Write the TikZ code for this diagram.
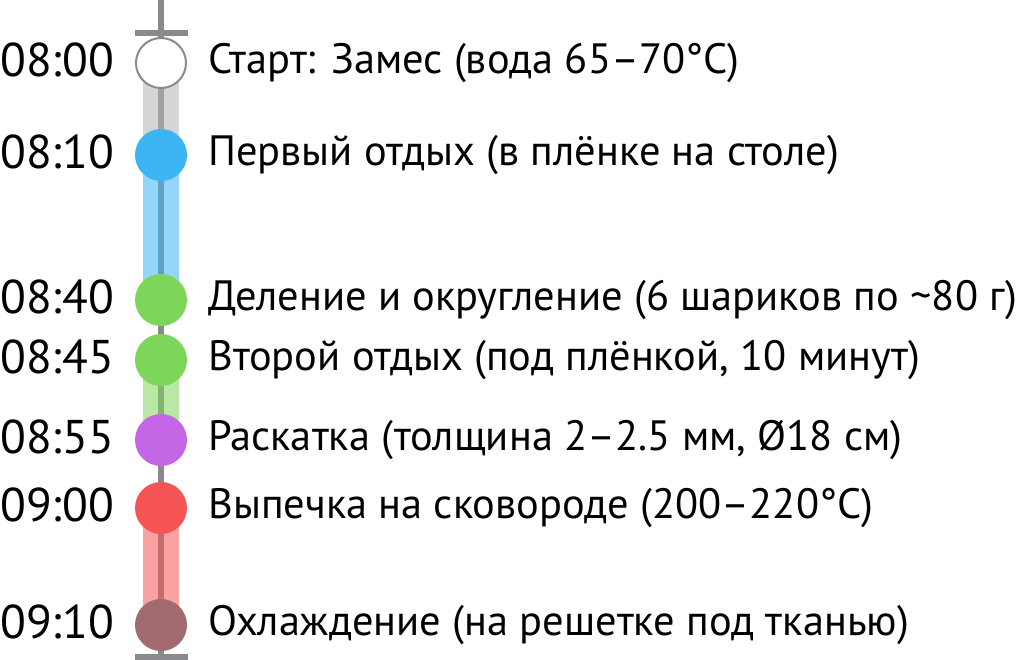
\documentclass[tikz,border=0pt]{standalone}
\usepackage{fontspec}
\setmainfont{PT Sans}
\begin{document}
\begin{tikzpicture}[x=0.75pt,y=-0.75pt,
  axis/.style={draw=axisgray,line width=4.5pt},
  band/.style={line width=27pt,opacity=0.55},
  dot/.style={circle,minimum size=39pt,inner sep=0pt},
  tm/.style={anchor=west,font=\fontsize{35.5}{38}\selectfont,inner sep=0pt},
  lbl/.style={anchor=west,font=\fontsize{31.8}{35}\selectfont,inner sep=0pt}]
\definecolor{axisgray}{HTML}{8A8A8E}
\definecolor{cgrayband}{HTML}{B4B4BA}
\definecolor{cblue}{HTML}{3DB5F5}
\definecolor{cgreen}{HTML}{7DD65A}
\definecolor{cpurple}{HTML}{C466E6}
\definecolor{cred}{HTML}{F55555}
\definecolor{cbrown}{HTML}{A06A6E}
\useasboundingbox (0,0) rectangle (1024,660);
\coordinate (top) at (161,0);
\coordinate (bot) at (161,660);
\draw[axis] (top) -- (bot);
\draw[axis] (135,33) -- (188,33);
\draw[axis] (135,657) -- (188,657);
\coordinate (p1) at (161,63);
\coordinate (p2) at (161,155);
\coordinate (p3) at (161,300);
\coordinate (p4) at (161,360);
\coordinate (p5) at (161,440);
\coordinate (p6) at (161,508);
\coordinate (p7) at (161,625);
\draw[band,draw=cgrayband] (p1) -- (p2);
\draw[band,draw=cblue] (p2) -- (p3);
\draw[band,draw=cgreen] (p4) -- (p5);
\draw[band,draw=cred] (p6) -- (p7);
\node[dot,fill=white,draw=axisgray,line width=1.5pt,minimum size=37.5pt] (n1) at (p1) {};
\node[dot,fill=cblue] (n2) at (p2) {};
\node[dot,fill=cgreen] (n3) at (p3) {};
\node[dot,fill=cgreen] (n4) at (p4) {};
\node[dot,fill=cpurple] (n5) at (p5) {};
\node[dot,fill=cred] (n6) at (p6) {};
\node[dot,fill=cbrown] (n7) at (p7) {};
\node[tm] (t1) at (0,60) {08:00};
\node[tm] (t2) at (0,152) {08:10};
\node[tm] (t3) at (0,297) {08:40};
\node[tm] (t4) at (0,357) {08:45};
\node[tm] (t5) at (0,437) {08:55};
\node[tm] (t6) at (0,505) {09:00};
\node[tm] (t7) at (0,622) {09:10};
\node[lbl] (l1) at (208,63) {Старт: Замес (вода 65–70°C)};
\node[lbl] (l2) at (208,155) {Первый отдых (в плёнке на столе)};
\node[lbl] (l3) at (208,300) {Деление и округление (6 шариков по \textasciitilde80 г)};
\node[lbl] (l4) at (208,360) {Второй отдых (под плёнкой, 10 минут)};
\node[lbl] (l5) at (208,440) {Раскатка (толщина 2–2.5 мм, Ø18 см)};
\node[lbl] (l6) at (208,508) {Выпечка на сковороде (200–220°C)};
\node[lbl] (l7) at (208,625) {Охлаждение (на решетке под тканью)};
\end{tikzpicture}
\end{document}
